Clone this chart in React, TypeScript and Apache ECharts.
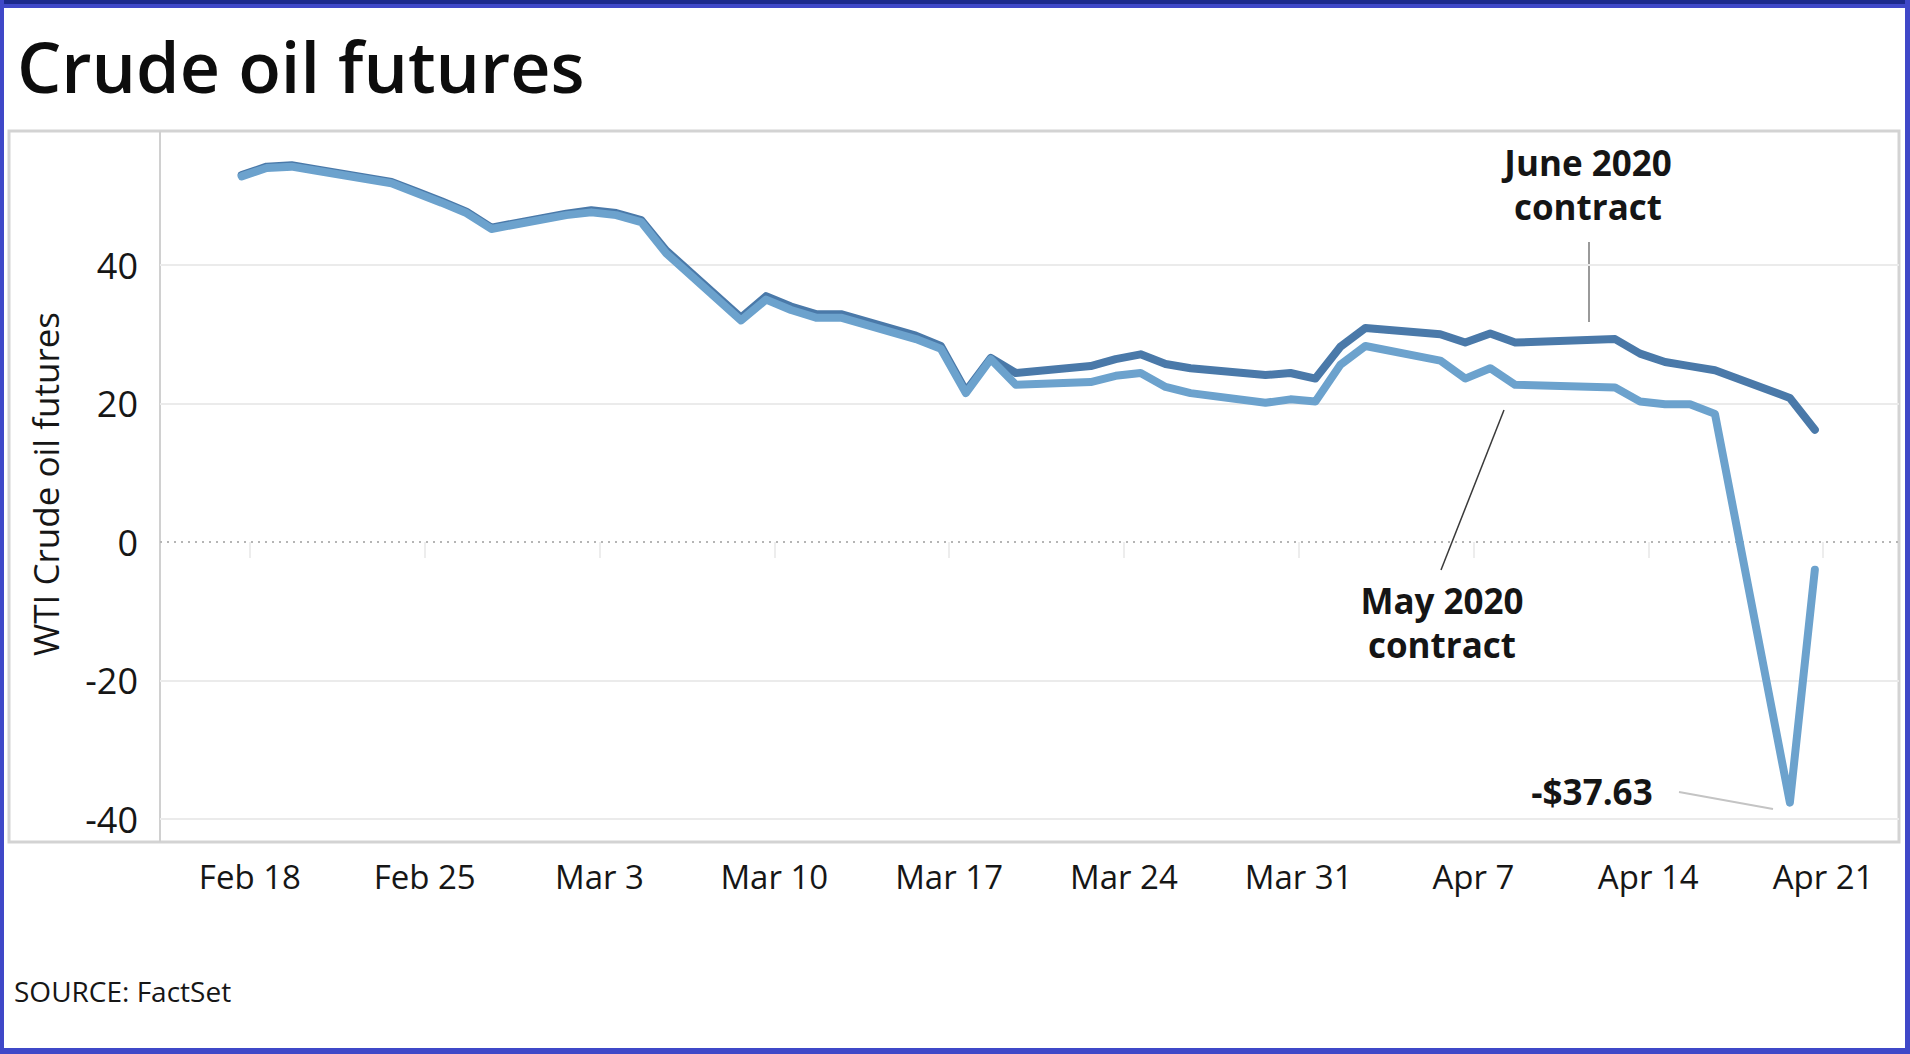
import React, { useEffect, useRef } from 'react';
import * as echarts from 'echarts';

// Trading days shown on the chart
const DATES = [
  '2020-02-18', '2020-02-19', '2020-02-20', '2020-02-21', '2020-02-24', '2020-02-25', '2020-02-26',
  '2020-02-27', '2020-02-28', '2020-03-02', '2020-03-03', '2020-03-04', '2020-03-05', '2020-03-06',
  '2020-03-09', '2020-03-10', '2020-03-11', '2020-03-12', '2020-03-13', '2020-03-16', '2020-03-17',
  '2020-03-18', '2020-03-19', '2020-03-20', '2020-03-23', '2020-03-24', '2020-03-25', '2020-03-26',
  '2020-03-27', '2020-03-30', '2020-03-31', '2020-04-01', '2020-04-02', '2020-04-03', '2020-04-06',
  '2020-04-07', '2020-04-08', '2020-04-09', '2020-04-13', '2020-04-14', '2020-04-15', '2020-04-16',
  '2020-04-17', '2020-04-20', '2020-04-21',
];

const MAY_2020 = [
  52.8, 54.0, 54.2, 53.6, 51.8, 50.4, 49.0,
  47.5, 45.2, 47.2, 47.6, 47.2, 46.2, 41.7,
  32.0, 35.0, 33.5, 32.4, 32.4, 29.3, 27.9,
  21.5, 26.4, 22.7, 23.1, 24.0, 24.4, 22.4,
  21.5, 20.1, 20.6, 20.3, 25.6, 28.3, 26.2,
  23.6, 25.1, 22.7, 22.3, 20.3, 19.9, 19.9,
  18.5, -37.63, -4.0,
];

const JUNE_2020 = [
  53.0, 54.2, 54.4, 53.8, 52.0, 50.6, 49.2,
  47.7, 45.4, 47.4, 47.9, 47.5, 46.5, 42.1,
  32.4, 35.5, 34.0, 32.9, 32.9, 29.8, 28.3,
  21.8, 26.6, 24.4, 25.4, 26.4, 27.1, 25.7,
  25.1, 24.1, 24.4, 23.6, 28.2, 30.9, 30.0,
  28.8, 30.1, 28.8, 29.3, 27.2, 26.0, 25.4,
  24.8, 20.8, 16.2,
];

const X_TICK_LABELS = ['Feb 18', 'Feb 25', 'Mar 3', 'Mar 10', 'Mar 17', 'Mar 24', 'Mar 31', 'Apr 7', 'Apr 14', 'Apr 21'];
const Y_MIN = -40;
const Y_MAX = 40;
const Y_STEP = 20;

const ORIGIN = Date.UTC(2020, 1, 18);
const dayOf = (s: string) => {
  const [y, m, d] = s.split('-').map(Number);
  return (Date.UTC(y, m - 1, d) - ORIGIN) / 86400000;
};

const TICK_SHIFT = 0.33;
const tickValues = X_TICK_LABELS.map((_, i) => i * 7 + TICK_SHIFT);

const FONT = '"Open Sans", "Noto Sans", sans-serif';

export default function App() {
  const ref = useRef<HTMLDivElement>(null);

  useEffect(() => {
    if (!ref.current) return;
    const chart = echarts.init(ref.current, undefined, { renderer: 'svg' });

    const mayData = DATES.map((d, i) => [dayOf(d), MAY_2020[i]]);
    const juneData = DATES.map((d, i) => [dayOf(d), JUNE_2020[i]]);

    const gridColor = '#ebebeb';
    const splitColors = [];
    for (let v = Y_MIN; v <= Y_MAX; v += Y_STEP) splitColors.push(v === 0 ? 'rgba(0,0,0,0)' : gridColor);

    chart.setOption({
      animation: false,
      backgroundColor: '#ffffff',
      grid: { left: 160, right: 11, top: 265, bottom: 235, containLabel: false },
      xAxis: {
        type: 'value',
        min: -3.27,
        max: 66.37,
        offset: 23,
        axisLine: { show: false },
        splitLine: { show: false },
        axisTick: {
          show: true,
          customValues: tickValues,
          length: 16,
          lineStyle: { color: '#ededed', width: 2 },
        },
        axisLabel: {
          customValues: tickValues,
          formatter: (v: number) => X_TICK_LABELS[Math.round((v - TICK_SHIFT) / 7)] ?? '',
          fontFamily: FONT,
          fontSize: 33,
          color: '#161616',
          margin: 18,
        },
      },
      yAxis: {
        type: 'value',
        min: Y_MIN,
        max: Y_MAX,
        interval: Y_STEP,
        axisLine: { show: false },
        axisTick: { show: false },
        axisLabel: {
          fontFamily: FONT,
          fontSize: 36,
          color: '#161616',
          margin: 22,
        },
        splitLine: { show: true, lineStyle: { color: splitColors, width: 2 } },
      },
      series: [
        {
          name: 'June 2020 contract',
          type: 'line',
          data: juneData,
          showSymbol: false,
          symbol: 'none',
          clip: false,
          lineStyle: { color: '#4a79a9', width: 8, cap: 'round', join: 'round' },
          z: 3,
        },
        {
          name: 'May 2020 contract',
          type: 'line',
          data: mayData,
          showSymbol: false,
          symbol: 'none',
          clip: false,
          lineStyle: { color: '#6ca2cd', width: 8, cap: 'round', join: 'round' },
          z: 4,
          markLine: {
            silent: true,
            symbol: 'none',
            label: { show: false },
            lineStyle: { color: '#b5b5b5', type: [2, 5], width: 2 },
            data: [{ yAxis: 0 }],
            z: 1,
          },
        },
      ],
      graphic: [
        // plot frame
        {
          type: 'rect',
          silent: true,
          z: 0,
          shape: { x: 9, y: 131, width: 1890, height: 711 },
          style: { fill: 'none', stroke: '#d3d3d3', lineWidth: 3 },
        },
        {
          type: 'line',
          silent: true,
          z: 0,
          shape: { x1: 160, y1: 131, x2: 160, y2: 842 },
          style: { stroke: '#d0d0d0', lineWidth: 2 },
        },
        // title
        {
          type: 'text',
          x: 17,
          y: 66,
          style: {
            text: 'Crude oil futures',
            font: `600 70px ${FONT}`,
            fill: '#0d0d0d',
            align: 'left',
            verticalAlign: 'middle',
          },
        },
        // y axis name
        {
          type: 'text',
          x: 45,
          y: 484,
          rotation: Math.PI / 2,
          style: {
            text: 'WTI Crude oil futures',
            font: `35px ${FONT}`,
            fill: '#161616',
            align: 'center',
            verticalAlign: 'middle',
          },
        },
        // source
        {
          type: 'text',
          x: 14,
          y: 991,
          style: {
            text: 'SOURCE: FactSet',
            font: `28px ${FONT}`,
            fill: '#161616',
            align: 'left',
            verticalAlign: 'middle',
          },
        },
        // June annotation
        {
          type: 'text',
          x: 1588,
          y: 184,
          style: {
            text: 'June 2020\ncontract',
            font: `bold 35px ${FONT}`,
            lineHeight: 44,
            fill: '#151515',
            align: 'center',
            verticalAlign: 'middle',
          },
        },
        {
          type: 'line',
          shape: { x1: 1589, y1: 242, x2: 1589, y2: 322 },
          style: { stroke: '#9a9a9a', lineWidth: 2 },
        },
        // May annotation
        {
          type: 'text',
          x: 1442,
          y: 622,
          style: {
            text: 'May 2020\ncontract',
            font: `bold 35px ${FONT}`,
            lineHeight: 44,
            fill: '#151515',
            align: 'center',
            verticalAlign: 'middle',
          },
        },
        {
          type: 'line',
          shape: { x1: 1504, y1: 410, x2: 1441, y2: 570 },
          style: { stroke: '#3a3a3a', lineWidth: 1.5 },
        },
        // minimum annotation
        {
          type: 'text',
          x: 1592,
          y: 791,
          style: { text: '-$37.63', font: `bold 35px ${FONT}`, fill: '#151515', align: 'center', verticalAlign: 'middle' },
        },
        {
          type: 'line',
          shape: { x1: 1679, y1: 792, x2: 1773, y2: 809 },
          style: { stroke: '#c4c4c4', lineWidth: 2 },
        },
        // blue outer border
        { type: 'rect', silent: true, z: 100, shape: { x: 0, y: 0, width: 1910, height: 4 }, style: { fill: '#1c2a8c' } },
        { type: 'rect', silent: true, z: 100, shape: { x: 0, y: 4, width: 1910, height: 4 }, style: { fill: '#3f48c8' } },
        { type: 'rect', silent: true, z: 100, shape: { x: 0, y: 0, width: 4, height: 1054 }, style: { fill: '#3f48c8' } },
        { type: 'rect', silent: true, z: 100, shape: { x: 1905, y: 0, width: 5, height: 1054 }, style: { fill: '#3f48c8' } },
        { type: 'rect', silent: true, z: 100, shape: { x: 0, y: 1048, width: 1910, height: 6 }, style: { fill: '#3f48c8' } },
      ],
    });

    return () => {
      chart.dispose();
    };
  }, []);

  return (
    <div
      ref={ref}
      style={{ position: 'fixed', left: 0, top: 0, width: 1910, height: 1054, background: '#ffffff' }}
    />
  );
}
